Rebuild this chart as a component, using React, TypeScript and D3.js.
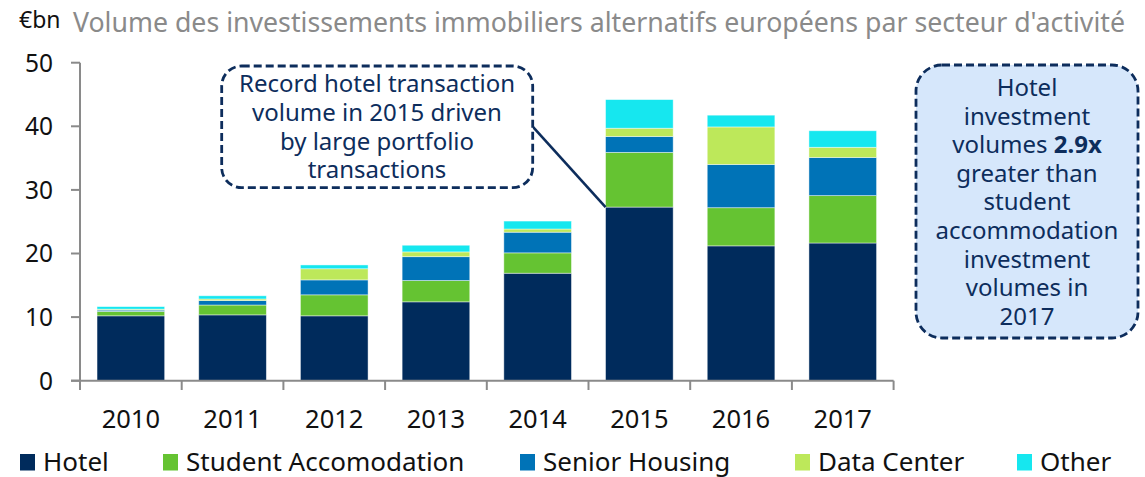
import React from 'react'
import * as d3 from 'd3'

// Volumes in €bn
const years = ['2010', '2011', '2012', '2013', '2014', '2015', '2016', '2017']
const hotel = [10.2, 10.35, 10.2, 12.4, 16.9, 27.3, 21.2, 21.65]
const student = [0.7, 1.55, 3.3, 3.35, 3.2, 8.6, 6.0, 7.45]
const senior = [0.2, 0.7, 2.35, 3.75, 3.25, 2.5, 6.8, 6.0]
const dataCenter = [0.15, 0.25, 1.75, 0.75, 0.5, 1.3, 5.9, 1.6]
const other = [0.4, 0.5, 0.6, 1.05, 1.25, 4.5, 1.85, 2.6]

const seriesNames = ['Hotel', 'Student Accomodation', 'Senior Housing', 'Data Center', 'Other']
const seriesKeys = ['hotel', 'student', 'senior', 'dataCenter', 'other']
const seriesColors = ['#002b5c', '#65c332', '#0073b7', '#bde85a', '#16e7ef']
const yTicks = [0, 10, 20, 30, 40, 50]

const note1 = ['Record hotel transaction', 'volume in 2015 driven', 'by large portfolio', 'transactions']

const W = 1145
const H = 477
const FONT = '"Noto Sans", "Open Sans", sans-serif'
const NAVY = '#0d2d5c'
const AXIS = '#8a8a8a'

export default function App() {
  const rows = years.map((yr, i) => ({
    year: yr,
    hotel: hotel[i],
    student: student[i],
    senior: senior[i],
    dataCenter: dataCenter[i],
    other: other[i],
  }))
  const stacked = d3.stack<any>().keys(seriesKeys)(rows)

  const x = d3.scaleBand<string>().domain(years).range([80, 893.6]).paddingInner(0.335).paddingOuter(0.1675)
  const y = d3.scaleLinear().domain([0, 50]).range([380.7, 62.7])
  const step = x.step()
  const edges = d3.range(years.length + 1).map(i => 80 + i * step)

  // connector from the note to the top of the 2015 hotel block
  const i2015 = years.indexOf('2015')
  const lx = x('2015')!
  const ly = y(hotel[i2015])

  const legendX = [20, 163, 520, 795, 1017]

  return (
    <svg width={W} height={H} style={{ position: 'absolute', left: 0, top: 0, fontFamily: FONT }}>
      <rect width={W} height={H} fill="#fff" />

      {/* heading */}
      <text x={19} y={28} fontSize={23} fill="#111">€bn</text>
      <text x={73} y={32} fontSize={26.7} fill="#8a8a8a">
        Volume des investissements immobiliers alternatifs européens par secteur d'activité
      </text>

      {/* bars */}
      {stacked.map((layer, si) => (
        <g key={layer.key} fill={seriesColors[si]}>
          {layer.map((d, i) => (
            <rect
              key={i}
              x={x(years[i])}
              y={y(d[1])}
              width={x.bandwidth()}
              height={y(d[0]) - y(d[1])}
              stroke="rgba(255,255,255,0.55)"
              strokeWidth={0.8}
            />
          ))}
        </g>
      ))}

      {/* axes */}
      <g stroke={AXIS} strokeWidth={2} fill="none">
        <line x1={80} x2={80} y1={y(50)} y2={390} />
        <line x1={71} x2={edges[edges.length - 1]} y1={y(0)} y2={y(0)} />
        {yTicks.map(t => (
          <line key={t} x1={71} x2={80} y1={y(t)} y2={y(t)} />
        ))}
        {edges.slice(1).map((e, i) => (
          <line key={i} x1={e} x2={e} y1={y(0)} y2={390} />
        ))}
      </g>
      {yTicks.map(t => (
        <text key={t} x={53} y={y(t)} dy="0.36em" textAnchor="end" fontSize={24.5} fill="#111">
          {t}
        </text>
      ))}
      {years.map(yr => (
        <text key={yr} x={x(yr)! + x.bandwidth() / 2} y={427.5} textAnchor="middle" fontSize={25.5} fill="#111">
          {yr}
        </text>
      ))}

      {/* note on 2015 */}
      <line x1={532.7} y1={126.7} x2={lx} y2={ly} stroke={NAVY} strokeWidth={2.6} />
      <rect
        x={221.7}
        y={66}
        width={311}
        height={121.7}
        rx={20}
        fill="#fff"
        stroke={NAVY}
        strokeWidth={2.8}
        strokeDasharray="8,4"
      />
      {note1.map((l, i) => (
        <text key={i} x={377} y={92.3 + i * 28.7} textAnchor="middle" fontSize={24} fill={NAVY}>
          {l}
        </text>
      ))}

      {/* note on the right */}
      <rect
        x={916}
        y={65}
        width={222}
        height={273}
        rx={26}
        fill="#d6e7fb"
        stroke={NAVY}
        strokeWidth={2.8}
        strokeDasharray="8,4"
      />
      <g textAnchor="middle" fontSize={24} fill={NAVY}>
        <text x={1027} y={96}>Hotel</text>
        <text x={1027} y={124.6}>investment</text>
        <text x={1027} y={153.2}>
          volumes <tspan fontWeight="bold">2.9x</tspan>
        </text>
        <text x={1027} y={181.8}>greater than</text>
        <text x={1027} y={210.4}>student</text>
        <text x={1027} y={239}>accommodation</text>
        <text x={1027} y={267.6}>investment</text>
        <text x={1027} y={296.2}>volumes in</text>
        <text x={1027} y={324.8}>2017</text>
      </g>

      {/* legend */}
      {seriesNames.map((n, i) => (
        <g key={n}>
          <rect x={legendX[i]} y={454} width={15} height={16.5} fill={seriesColors[i]} />
          <text x={legendX[i] + 23} y={470.5} fontSize={26} fill="#111">
            {n}
          </text>
        </g>
      ))}
    </svg>
  )
}
